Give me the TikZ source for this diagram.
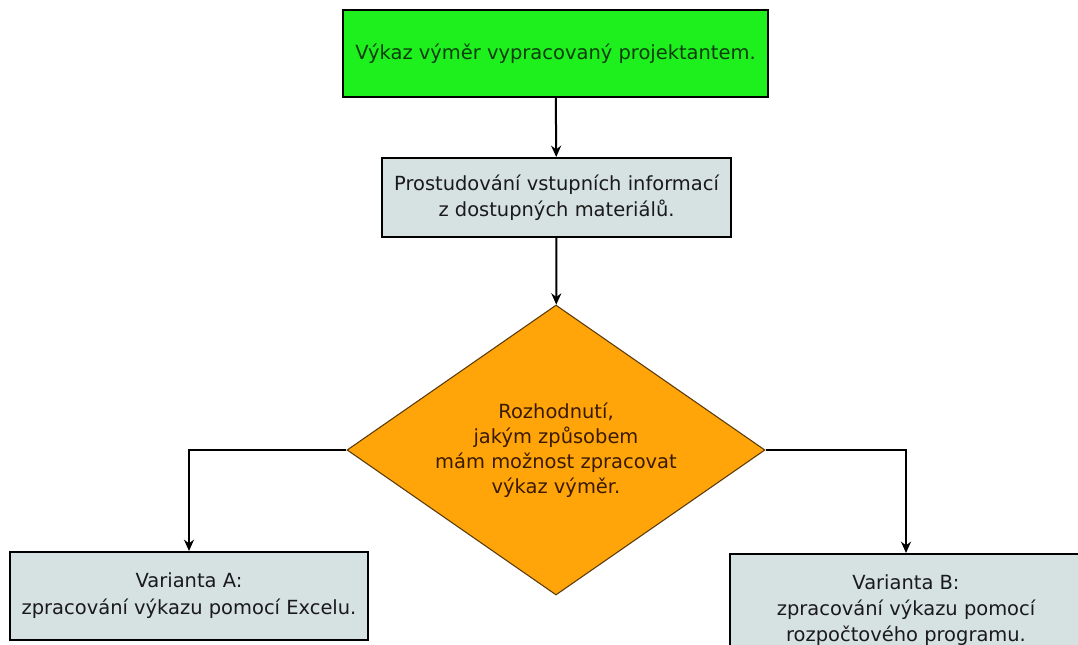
\documentclass[tikz,border=0pt]{standalone}
\usepackage{fontspec}
\setmainfont{DejaVu Sans}
\usetikzlibrary{shapes.geometric,arrows.meta}

\definecolor{boxgreen}{HTML}{1EF01E}
\definecolor{greentext}{HTML}{0B3D0B}
\definecolor{boxgray}{HTML}{D6E1E1}
\definecolor{decorange}{HTML}{FFA50A}
\definecolor{decborder}{HTML}{5A3A08}
\definecolor{dectext}{HTML}{3A1A00}
\definecolor{darktext}{HTML}{1A1A1A}

\tikzset{
  basebox/.style={draw=black, line width=1.5pt, inner sep=0pt, align=center,
    font=\fontsize{14.6}{19.5}\selectfont},
  startbox/.style={basebox, fill=boxgreen, text=greentext},
  procbox/.style={basebox, fill=boxgray, text=darktext},
  decision/.style={diamond, aspect=1.44, draw=decborder, line width=0.8pt,
    fill=decorange, text=dectext, inner sep=0pt, align=center,
    minimum width=418*0.75pt, minimum height=290*0.75pt,
    font=\fontsize{14.6}{18.75}\selectfont},
  flow/.style={line width=1.5pt, -{Stealth[length=8.5pt,width=7.5pt]}}
}

\begin{document}
\begin{tikzpicture}[x=0.75pt,y=-0.75pt]
  \clip (0,0) rectangle (1078,644);
  \fill[white] (0,0) rectangle (1078,644);

  \node[startbox, minimum width=425*0.75pt, minimum height=87*0.75pt]
    (start) at (555.5,53.5) {Výkaz výměr vypracovaný projektantem.};

  \node[procbox, minimum width=349*0.75pt, minimum height=79*0.75pt]
    (study) at (556.5,197.5) {Prostudování vstupních informací\\z dostupných materiálů.};

  \node[decision] (choice) at (556,450)
    {Rozhodnutí,\\jakým způsobem\\mám možnost zpracovat\\výkaz výměr.};

  \node[procbox, minimum width=358*0.75pt, minimum height=88*0.75pt,
    font=\fontsize{14.6}{20.25}\selectfont]
    (varA) at (189,596) {Varianta A:\\zpracování výkazu pomocí Excelu.};

  \node[procbox, minimum width=352*0.75pt, minimum height=112*0.75pt]
    (varB) at (906,610) {Varianta B:\\zpracování výkazu pomocí\\rozpočtového programu.};

  \draw[flow] (start) -- (study);
  \draw[flow] (study) -- (choice);
  \draw[flow] (choice.west) -| (varA.north);
  \draw[flow] (choice.east) -| (varB.north);
\end{tikzpicture}
\end{document}
